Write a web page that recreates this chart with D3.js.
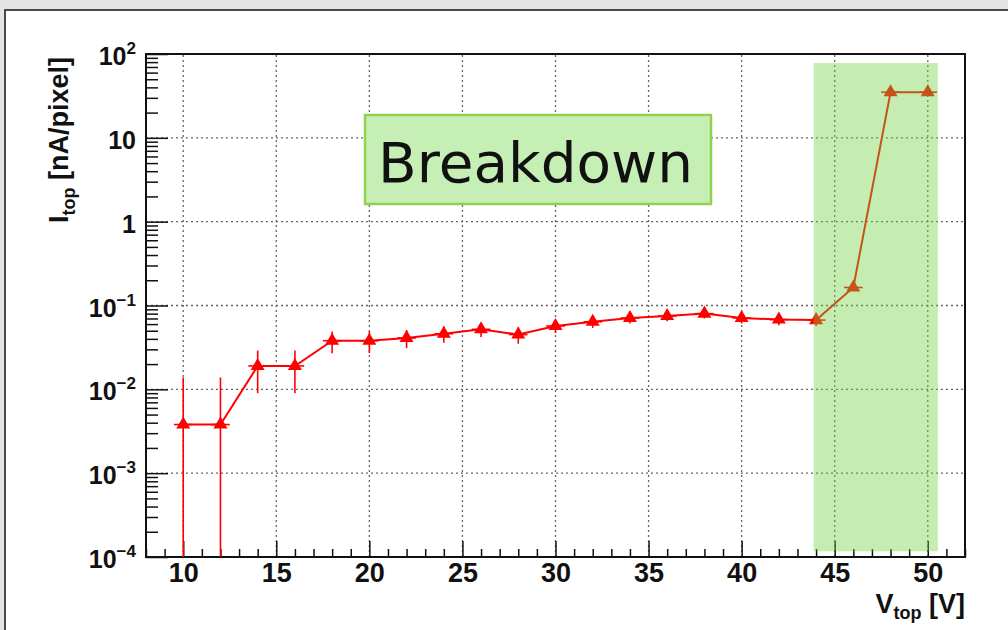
<!DOCTYPE html>
<html>
<head>
<meta charset="utf-8">
<script src="https://cdn.jsdelivr.net/npm/d3@7"></script>
<style>
  body { margin: 0; background: #e4e4e4; }
  svg { display: block; font-family: "Liberation Sans", Arial, sans-serif; }
</style>
</head>
<body>
<svg id="chart" width="1008" height="630"></svg>
<script>
// bias scan values
const voltages = [10, 12, 14, 16, 18, 20, 22, 24, 26, 28, 30, 32, 34, 36, 38, 40, 42, 44, 46, 48, 50];
const currents = [0.0038, 0.0038, 0.019, 0.019, 0.038, 0.038, 0.041, 0.046, 0.052, 0.045, 0.057,
    0.064, 0.071, 0.075, 0.080, 0.071, 0.068, 0.067, 0.164, 35, 35];
const currentErrors = [0.010, 0.010, 0.010, 0.010, 0.011, 0.011, 0.010, 0.010, 0.010, 0.010, 0.010,
    0.010, 0.010, 0.010, 0.010, 0.010, 0.010, 0.010, 0.010, 0.5, 0.5];
const voltageErrors = [0.5, 0.5, 0.5, 0.5, 0.5, 0.5, 0.5, 0.5, 0.5, 0.5, 0.5,
    0.5, 0.5, 0.5, 0.5, 0.5, 0.5, 0.5, 0.5, 0.5, 0.5];

const xMajorTicks = [10, 15, 20, 25, 30, 35, 40, 45, 50];
const yMajorTicks = [1e-4, 1e-3, 1e-2, 1e-1, 1, 10, 100];
const yTickLabels = [["10", "\u22124"], ["10", "\u22123"], ["10", "\u22122"], ["10", "\u22121"], ["1", ""], ["10", ""], ["10", "2"]];

// highlighted breakdown region (data units)
const breakdownRange = { x0: 43.87, x1: 50.54, y0: 1.17e-4, y1: 78 };

const data = voltages.map((v, i) => ({
    v: v, i: currents[i], ei: currentErrors[i], ev: voltageErrors[i]
}));

const svg = d3.select("#chart");
const margin = { left: 146, right: 43, top: 54, bottom: 73 };
const width = 1008, height = 630;

const xScale = d3.scaleLinear().domain([8, 52]).range([margin.left, width - margin.right]);
const yScale = d3.scaleLog().domain([1e-4, 1e2]).range([height - margin.bottom, margin.top]);

// page panel
svg.append("rect")
    .attr("x", 5).attr("y", 10).attr("width", 1020).attr("height", 640)
    .attr("fill", "#fff").attr("stroke", "#4a4a4a").attr("stroke-width", 2);

svg.append("defs").append("clipPath").attr("id", "plotClip")
    .append("rect")
    .attr("x", margin.left).attr("y", margin.top)
    .attr("width", xScale.range()[1] - margin.left)
    .attr("height", yScale.range()[0] - margin.top);

// grid
const grid = svg.append("g").attr("stroke", "#666").attr("stroke-width", 1.3).attr("stroke-dasharray", "2,3");
grid.selectAll(".gx").data(xMajorTicks).enter().append("line")
    .attr("x1", d => xScale(d)).attr("x2", d => xScale(d))
    .attr("y1", yScale.range()[0]).attr("y2", yScale.range()[1]);
grid.selectAll(".gy").data(yMajorTicks.slice(1, -1)).enter().append("line")
    .attr("y1", d => yScale(d)).attr("y2", d => yScale(d))
    .attr("x1", xScale.range()[0]).attr("x2", xScale.range()[1]);

// x axis
const xMinor = d3.range(8, 53).filter(d => d % 5 !== 0);
svg.append("g")
    .attr("transform", `translate(0,${yScale.range()[0]})`)
    .call(d3.axisBottom(xScale).tickValues(xMinor).tickSize(-8).tickFormat(""))
    .call(g => g.select(".domain").remove())
    .selectAll("line").attr("stroke", "#111").attr("stroke-width", 1.5);

const xAxis = svg.append("g")
    .attr("transform", `translate(0,${yScale.range()[0]})`)
    .call(d3.axisBottom(xScale).tickValues(xMajorTicks).tickSize(-16).tickPadding(6).tickSizeOuter(0));
xAxis.selectAll("line").attr("stroke", "#111").attr("stroke-width", 1.5);
xAxis.select(".domain").remove();
xAxis.selectAll("text")
    .attr("font-size", 27).attr("font-weight", "bold").attr("fill", "#111")
    .attr("font-family", "Liberation Sans, Arial, sans-serif");

// y axis minor ticks
const yMinor = [];
yMajorTicks.slice(0, -1).forEach(d => {
    for (let k = 2; k <= 9; k++) yMinor.push(d * k);
});
svg.append("g")
    .attr("transform", `translate(${xScale.range()[0]},0)`)
    .call(d3.axisLeft(yScale).tickValues(yMinor).tickSize(-12).tickFormat(""))
    .call(g => g.select(".domain").remove())
    .selectAll("line").attr("stroke", "#111").attr("stroke-width", 1.5);

const yAxis = svg.append("g")
    .attr("transform", `translate(${xScale.range()[0]},0)`)
    .call(d3.axisLeft(yScale).tickValues(yMajorTicks).tickSize(-22).tickPadding(10).tickFormat(""));
yAxis.select(".domain").remove();
yAxis.selectAll("line").attr("stroke", "#111").attr("stroke-width", 1.5);
yAxis.selectAll(".tick text")
    .attr("font-size", 25).attr("font-weight", "bold").attr("fill", "#111")
    .attr("font-family", "Liberation Sans, Arial, sans-serif")
    .attr("dy", "0.42em")
    .each(function (d, i) {
        const t = d3.select(this);
        const lab = yTickLabels[i];
        t.append("tspan").text(lab[0]);
        if (lab[1]) {
            t.append("tspan").attr("font-size", 17).attr("dy", -11).text(lab[1]);
        }
    });

// frame
svg.append("rect")
    .attr("x", xScale.range()[0]).attr("y", yScale.range()[1])
    .attr("width", xScale.range()[1] - xScale.range()[0])
    .attr("height", yScale.range()[0] - yScale.range()[1])
    .attr("fill", "none").attr("stroke", "#111").attr("stroke-width", 2);

// data
const plot = svg.append("g").attr("clip-path", "url(#plotClip)");
const red = "#ff0000";

plot.selectAll(".ey").data(data).enter().append("line")
    .attr("x1", d => xScale(d.v)).attr("x2", d => xScale(d.v))
    .attr("y1", d => yScale(d.i + d.ei))
    .attr("y2", d => yScale(Math.max(d.i - d.ei, 1e-6)))
    .attr("stroke", red).attr("stroke-width", 1.6);

plot.selectAll(".ex").data(data).enter().append("line")
    .attr("x1", d => xScale(d.v - d.ev)).attr("x2", d => xScale(d.v + d.ev))
    .attr("y1", d => yScale(d.i)).attr("y2", d => yScale(d.i))
    .attr("stroke", red).attr("stroke-width", 1.6);

const line = d3.line().x(d => xScale(d.v)).y(d => yScale(d.i));
plot.append("path").datum(data)
    .attr("d", line)
    .attr("fill", "none").attr("stroke", red).attr("stroke-width", 2);

plot.selectAll(".pt").data(data).enter().append("path")
    .attr("transform", d => `translate(${xScale(d.v)},${yScale(d.i)})`)
    .attr("d", d3.symbol(d3.symbolTriangle, 85))
    .attr("fill", red);

// breakdown highlight overlay
svg.append("rect")
    .attr("x", xScale(breakdownRange.x0))
    .attr("y", yScale(breakdownRange.y1))
    .attr("width", xScale(breakdownRange.x1) - xScale(breakdownRange.x0))
    .attr("height", yScale(breakdownRange.y0) - yScale(breakdownRange.y1))
    .attr("fill", "rgb(110,210,60)").attr("fill-opacity", 0.4);

// label box
svg.append("rect")
    .attr("x", 365).attr("y", 115).attr("width", 346).attr("height", 89)
    .attr("fill", "#c6efb5").attr("stroke", "#92d050").attr("stroke-width", 2.5);
svg.append("text")
    .attr("x", 378).attr("y", 182)
    .attr("font-family", "DejaVu Sans, sans-serif").attr("font-size", 56)
    .attr("textLength", 315).attr("lengthAdjust", "spacingAndGlyphs")
    .attr("fill", "#111")
    .text("Breakdown");

// axis titles
const yTitle = svg.append("text")
    .attr("transform", "translate(68,140) rotate(-90)")
    .attr("text-anchor", "middle")
    .attr("font-size", 27).attr("font-weight", "bold").attr("fill", "#111");
yTitle.append("tspan").text("I");
yTitle.append("tspan").attr("font-size", 18).attr("dy", 7).text("top");
yTitle.append("tspan").attr("dy", -7).text(" [nA/pixel]");

const xTitle = svg.append("text")
    .attr("x", 965).attr("y", 613)
    .attr("text-anchor", "end")
    .attr("font-size", 27).attr("font-weight", "bold").attr("fill", "#111");
xTitle.append("tspan").text("V");
xTitle.append("tspan").attr("font-size", 18).attr("dy", 6).text("top");
xTitle.append("tspan").attr("dy", -6).text(" [V]");
</script>
</body>
</html>
